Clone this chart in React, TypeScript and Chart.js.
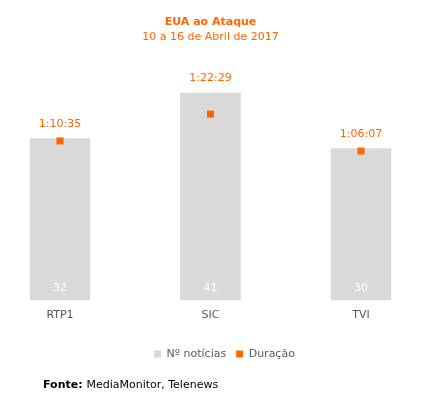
import React, { useEffect, useRef } from "react";
import { Chart, registerables } from "chart.js";

Chart.register(...registerables);

const categories = ["RTP1", "SIC", "TVI"];
const newsCounts = [32, 41, 30];
const durationLabels = ["1:10:35", "1:22:29", "1:06:07"];

const toSeconds = (s: string) => {
  const [h, m, sec] = s.split(":").map(Number);
  return h * 3600 + m * 60 + sec;
};
const durationSeconds = durationLabels.map(toSeconds);

const ORANGE = "#ff6600";
const GREY_BAR = "#d9d9d9";
const TEXT = "#595959";
const FONT = "DejaVu Sans";

const labelPlugin = {
  id: "labelPlugin",
  afterLayout(chart: any) {
    if (chart.legend) {
      chart.legend.left += 14;
      chart.legend.right += 14;
    }
  },
  afterDatasetsDraw(chart: any) {
    const ctx = chart.ctx;
    const meta = chart.getDatasetMeta(0);
    const base = chart.scales.y.getPixelForValue(0);
    ctx.save();
    ctx.textAlign = "center";
    ctx.textBaseline = "middle";
    ctx.font = `11px "${FONT}"`;
    meta.data.forEach((bar: any, i: number) => {
      ctx.fillStyle = "#ffffff";
      ctx.fillText(String(newsCounts[i]), bar.x, base - 12);
      ctx.fillStyle = ORANGE;
      ctx.fillText(durationLabels[i], bar.x, bar.y - 14.5);
    });
    ctx.restore();
  },
  afterDraw(chart: any) {
    const ctx = chart.ctx;
    ctx.save();
    ctx.textBaseline = "middle";
    ctx.textAlign = "left";
    ctx.fillStyle = "#000000";
    ctx.font = `bold 11px "${FONT}"`;
    const lbl = "Fonte:";
    ctx.fillText(lbl, 43, 385);
    const w = ctx.measureText(lbl + " ").width;
    ctx.font = `11px "${FONT}"`;
    ctx.fillText("MediaMonitor, Telenews", 43 + w, 385);
    ctx.restore();
  },
};

export default function App() {
  const ref = useRef<HTMLCanvasElement>(null);
  useEffect(() => {
    if (!ref.current) return;
    Chart.defaults.font.family = FONT;
    const chart = new Chart(ref.current, {
      data: {
        labels: categories,
        datasets: [
          {
            type: "bar",
            label: "Nº notícias",
            data: newsCounts,
            backgroundColor: GREY_BAR,
            borderWidth: 0,
            barThickness: 60,
            yAxisID: "y",
            clip: false,
            order: 1,
          } as any,
          {
            type: "line",
            label: "Duração",
            data: durationSeconds,
            showLine: false,
            pointStyle: "rect",
            pointRadius: 5,
            pointHoverRadius: 5,
            pointBorderWidth: 0,
            borderWidth: 0,
            backgroundColor: ORANGE,
            borderColor: ORANGE,
            pointBackgroundColor: ORANGE,
            yAxisID: "y1",
            clip: false,
            order: 0,
          } as any,
        ],
      },
      options: {
        animation: false,
        responsive: false,
        maintainAspectRatio: false,
        layout: { padding: { left: 60, right: 61, top: 0, bottom: 39.5 } },
        plugins: {
          tooltip: { enabled: false },
          title: {
            display: true,
            text: "EUA ao Ataque",
            color: ORANGE,
            font: { size: 11, weight: "bold", family: FONT },
            padding: { top: 16, bottom: 0 },
          },
          subtitle: {
            display: true,
            text: "10 a 16 de Abril de 2017",
            color: ORANGE,
            font: { size: 11, family: FONT },
            padding: { top: 1.2, bottom: 4 },
          },
          legend: {
            position: "bottom",
            labels: {
              boxWidth: 7,
              boxHeight: 7,
              color: TEXT,
              font: { size: 11, family: FONT },
              padding: 10,
              sort: (a: any, b: any) => a.datasetIndex - b.datasetIndex,
            },
          },
        },
        scales: {
          x: {
            type: "category",
            offset: false,
            grid: { display: false, drawTicks: false },
            border: { display: false },
            ticks: { padding: 9, color: TEXT, font: { size: 11, family: FONT } },
            afterFit: (s: any) => {
              s.height = 38.5;
            },
          },
          y: { display: false, min: 0, max: 50 },
          y1: { display: false, min: 0, max: 6720, position: "right" },
        },
      } as any,
      plugins: [labelPlugin],
    });
    return () => chart.destroy();
  }, []);
  return (
    <div style={{ position: "fixed", left: 0, top: 0, width: 422, height: 409, background: "#fff" }}>
      <canvas ref={ref} width={422} height={409} style={{ width: 422, height: 409 }} />
    </div>
  );
}
